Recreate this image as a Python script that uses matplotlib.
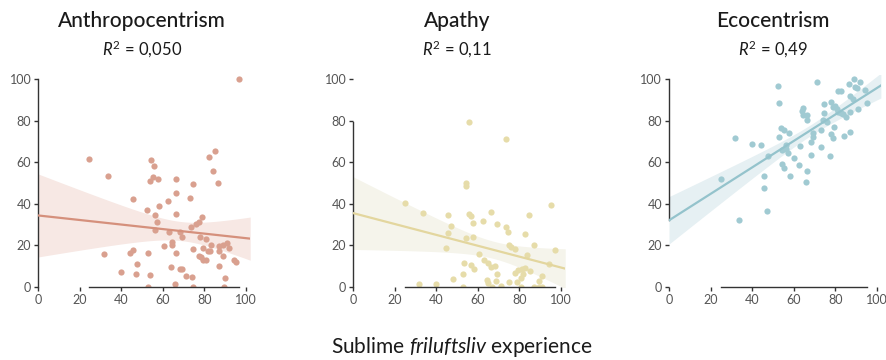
import numpy as np
import matplotlib
matplotlib.use("Agg")
import matplotlib.pyplot as plt

plt.rcParams['font.family'] = ['Lato', 'DejaVu Sans']
plt.rcParams['mathtext.fontset'] = 'custom'
plt.rcParams['mathtext.rm'] = 'Lato'
plt.rcParams['mathtext.it'] = 'Lato:italic'

# values (x = sublime friluftsliv experience)
anthro_x = [24.6, 31.6, 33.4, 39.6, 44.3, 45.4, 45.4, 46.9, 47.7, 52.3, 53.0, 52.6,
            53.9, 54.3, 53.9, 55.5, 55.2, 57.6, 56.2, 57.3, 56.3, 57.9, 60.3, 62.4,
            62.9, 64.4, 64.2, 63.9, 66.3, 66.5, 66.1, 66.3, 65.8, 68.2, 69.0, 68.1,
            69.2, 70.9, 73.0, 73.4, 74.3, 74.2, 74.6, 74.6, 76.1, 77.5, 79.0, 77.8,
            77.5, 78.2, 79.3, 79.3, 80.7, 80.7, 81.9, 82.7, 82.3, 83.1, 84.1, 85.1,
            86.7, 87.0, 87.0, 87.0, 88.8, 89.1, 89.4, 90.9, 90.0, 92.0, 94.2, 95.2, 96.8]
anthro_y = [61.6, 15.9, 53.5, 7.2, 16.4, 17.7, 42.1, 6.1, 11.1, 36.9, 16.1, 0.0,
            5.8, 61.2, 51.0, 57.9, 52.6, 51.8, 34.5, 31.3, 27.3, 39.0, 19.6, 41.3,
            26.2, 21.3, 20.1, 9.3, 52.0, 44.9, 34.8, 16.1, 1.1, 26.2, 24.1, 8.3,
            8.3, 5.1, 42.5, 28.9, 49.4, 4.5, 18.0, 0.0, 30.2, 31.3, 33.4, 24.1,
            14.9, 14.4, 18.8, 12.7, 12.8, 23.0, 17.3, 17.2, 62.6, 20.2, 55.7, 65.5,
            50.1, 19.4, 17.0, 10.0, 19.9, 14.8, 0.0, 21.0, 4.2, 18.8, 12.8, 11.7, 100.0]

apathy_x = [25.0, 31.6, 33.7, 39.8, 44.5, 45.6, 45.6, 47.2, 48.0, 52.8, 53.1, 52.8,
            54.3, 54.4, 54.4, 55.5, 56.7, 55.9, 56.7, 57.6, 57.8, 58.1, 60.5, 62.6,
            62.9, 64.2, 64.7, 65.0, 66.3, 66.1, 66.8, 68.4, 68.5, 69.2, 69.3, 71.1,
            73.4, 73.5, 74.5, 74.8, 75.9, 74.8, 77.7, 77.8, 78.7, 79.5, 80.6, 80.7,
            81.2, 81.9, 82.7, 82.7, 83.8, 84.6, 85.1, 87.2, 87.0, 89.2, 89.6, 90.7,
            91.0, 94.4, 95.2, 97.3]
apathy_y = [40.4, 1.1, 35.5, 1.1, 18.6, 34.7, 25.8, 29.4, 3.9, 6.3, 11.2, 0.0,
            23.4, 49.8, 48.5, 34.8, 34.2, 79.1, 10.3, 30.8, 23.9, 8.7, 15.9, 31.8,
            12.8, 3.4, 1.9, 11.6, 35.8, 9.6, 0.0, 10.1, 2.6, 30.0, 6.3, 0.3,
            70.9, 28.7, 26.2, 20.1, 19.3, 2.1, 18.0, 6.4, 2.4, 8.0, 4.0, 0.0,
            8.3, 5.9, 9.0, 25.4, 15.1, 34.3, 7.7, 19.9, 0.0, 0.0, 2.9, 5.1,
            0.0, 10.9, 39.5, 17.8]

eco_x = [24.9, 31.8, 33.5, 39.8, 44.5, 45.6, 45.6, 47.0, 47.8, 52.5, 53.1, 52.8,
         54.1, 55.5, 54.3, 54.6, 55.5, 56.3, 56.5, 57.6, 57.5, 58.1, 60.4, 62.6,
         63.1, 63.9, 64.4, 64.7, 66.5, 66.6, 66.3, 66.0, 68.4, 68.5, 69.2, 69.3,
         71.1, 73.2, 73.4, 74.3, 74.6, 74.8, 75.9, 77.7, 78.0, 78.2, 78.8, 79.1,
         79.5, 80.1, 80.7, 81.4, 81.5, 82.7, 82.8, 83.9, 84.4, 85.2, 86.6, 86.9,
         87.2, 87.3, 88.8, 89.2, 89.7, 90.5, 91.0, 92.1, 94.4, 95.3]
eco_y = [51.8, 71.6, 32.3, 68.7, 68.4, 53.1, 47.5, 36.6, 62.9, 96.6, 88.4, 72.1,
         76.4, 75.4, 65.8, 58.9, 57.3, 68.2, 66.1, 74.2, 64.2, 53.5, 62.1, 58.6,
         67.7, 84.8, 86.2, 82.7, 82.7, 80.3, 55.5, 50.6, 63.2, 69.8, 71.9, 73.8,
         98.7, 67.1, 75.3, 80.1, 83.8, 87.8, 79.3, 63.1, 73.5, 89.1, 86.7, 71.7,
         76.7, 87.0, 85.4, 84.3, 94.4, 94.4, 83.5, 83.0, 72.6, 81.9, 97.6, 91.7,
         84.1, 74.5, 90.4, 100.0, 96.3, 95.5, 85.4, 98.4, 94.7, 88.6]

titles = ['Anthropocentrism', 'Apathy', 'Ecocentrism']
r2_labels = ['0,050', '0,11', '0,49']
point_colors = ['#d9a08f', '#e6dca9', '#a0cad2']
line_colors = ['#d5907c', '#e3d69e', '#94c3cc']
band_colors = ['#f7e8e4', '#f5f4eb', '#e6f0f3']


def fit_with_ci(x, y, grid):
    x = np.asarray(x)
    y = np.asarray(y)
    n = len(x)
    slope, intercept = np.polyfit(x, y, 1)
    resid = y - (intercept + slope * x)
    s = np.sqrt(np.sum(resid ** 2) / (n - 2))
    sxx = np.sum((x - x.mean()) ** 2)
    se = s * np.sqrt(1.0 / n + (grid - x.mean()) ** 2 / sxx)
    pred = intercept + slope * grid
    return pred, pred - 1.99 * se, pred + 1.99 * se


fig = plt.figure(figsize=(8.87, 3.60), dpi=100)
lefts = [38.3 / 887, 353.3 / 887, 669 / 887]
width = 211.9 / 887
bottom = 73.3 / 360
height = 211.9 / 360

data = [(anthro_x, anthro_y), (apathy_x, apathy_y), (eco_x, eco_y)]
grid = np.linspace(0, 102, 100)

for i, (xs, ys) in enumerate(data):
    ax = fig.add_axes([lefts[i], bottom, width, height])
    pred, lo, hi = fit_with_ci(xs, ys, grid)
    ax.fill_between(grid, lo, hi, color=band_colors[i], lw=0, zorder=1)
    ax.scatter(xs, ys, s=20, color=point_colors[i], lw=0, zorder=2)
    ax.plot(grid, pred, color=line_colors[i], lw=1.6, zorder=3)

    ax.set_xlim(0, 102)
    ax.set_ylim(0, 102)
    ax.set_xticks([0, 20, 40, 60, 80, 100])
    ax.set_yticks([0, 20, 40, 60, 80, 100])
    for side in ['top', 'right']:
        ax.spines[side].set_visible(False)
    for side in ['left', 'bottom']:
        ax.spines[side].set_color('#333333')
        ax.spines[side].set_linewidth(1.0)
    ax.spines['left'].set_bounds(min(ys), max(ys))
    ax.spines['bottom'].set_bounds(min(xs), max(xs))
    ax.tick_params(length=3, width=1, color='#333333', labelcolor='#555555',
                   labelsize=9, pad=2)

    cx = lefts[i] + (100 / 102) * width / 2
    fig.text(cx, 1 - 21 / 360, titles[i], ha='center', va='center',
             fontsize=15, color='#1a1a1a', fontweight='medium')
    fig.text(cx, 1 - 49 / 360, '$R^2$ = ' + r2_labels[i], ha='center',
             va='center', fontsize=12, color='#1a1a1a')

fig.text(462 / 887, 1 - 347 / 360, 'Sublime $friluftsliv$ experience',
         ha='center', va='center', fontsize=15, color='#1a1a1a')

fig.savefig('out.png', dpi=100)
